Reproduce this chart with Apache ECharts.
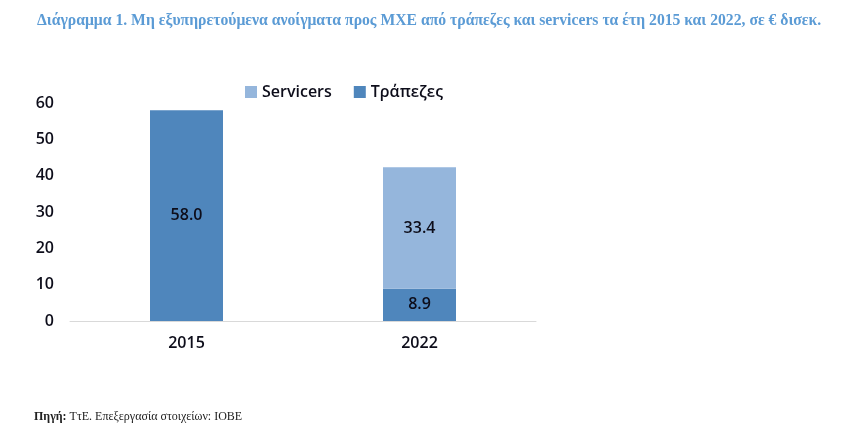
<!DOCTYPE html>
<html><head><meta charset="utf-8">
<script src="https://cdn.jsdelivr.net/npm/echarts@6/dist/echarts.min.js"></script>
<style>html,body{margin:0;padding:0;background:#fff}#c{width:847px;height:427px}</style>
</head><body><div id="c"></div>
<script>
const categories = ['2015', '2022'];
const banks = [58.0, 8.9];
const servicers = [null, 33.4];
const yTicks = [0, 10, 20, 30, 40, 50, 60];

const chart = echarts.init(document.getElementById('c'));
const lblFont = {fontFamily: '"Open Sans", sans-serif', fontSize: 16, fontWeight: 600, color: '#0d0d1a'};
chart.setOption({
  animation: false,
  title: [
    {text: 'Διάγραμμα 1. Μη εξυπηρετούμενα ανοίγματα προς ΜΧΕ από τράπεζες και servicers τα έτη 2015 και 2022, σε € δισεκ.',
     left: 32, top: 8, textStyle: {fontFamily: '"Liberation Serif", serif', fontSize: 15.7, fontWeight: 'bold', color: '#5b9bd5'}},
    {text: '{b|Πηγή:} ΤτΕ. Επεξεργασία στοιχείων: ΙΟΒΕ', left: 29, top: 406,
     textStyle: {fontFamily: '"Liberation Serif", serif', fontSize: 12, fontWeight: 'normal', color: '#222',
       rich: {b: {fontFamily: '"Liberation Serif", serif', fontSize: 12, fontWeight: 'bold', color: '#222'}}}}
  ],
  legend: {
    data: ['Servicers', 'Τράπεζες'], left: 240, top: 79, itemWidth: 12, itemHeight: 12, itemGap: 22,
    icon: 'rect',
    textStyle: {fontFamily: '"Open Sans", sans-serif', fontSize: 16, fontWeight: 600, color: '#0d0d1a'}
  },
  grid: {left: 70, right: 311, top: 103, bottom: 106},
  xAxis: {
    type: 'category', data: categories,
    axisLine: {lineStyle: {color: '#d9d9d9'}}, axisTick: {show: false},
    axisLabel: Object.assign({margin: 14}, lblFont)
  },
  yAxis: {
    type: 'value', min: 0, max: 60, interval: 10,
    splitLine: {show: false}, axisLine: {show: false}, axisTick: {show: false},
    axisLabel: Object.assign({margin: 16}, lblFont)
  },
  series: [
    {name: 'Τράπεζες', type: 'bar', stack: 's', data: banks, barWidth: 73,
     itemStyle: {color: '#4f86bc'},
     label: {show: true, position: 'inside', formatter: p => p.value.toFixed(1), ...lblFont}},
    {name: 'Servicers', type: 'bar', stack: 's', data: servicers, barWidth: 73,
     itemStyle: {color: '#95b6dc'},
     label: {show: true, position: 'inside', formatter: p => p.value == null ? '' : p.value.toFixed(1), ...lblFont}}
  ]
});
</script></body></html>
